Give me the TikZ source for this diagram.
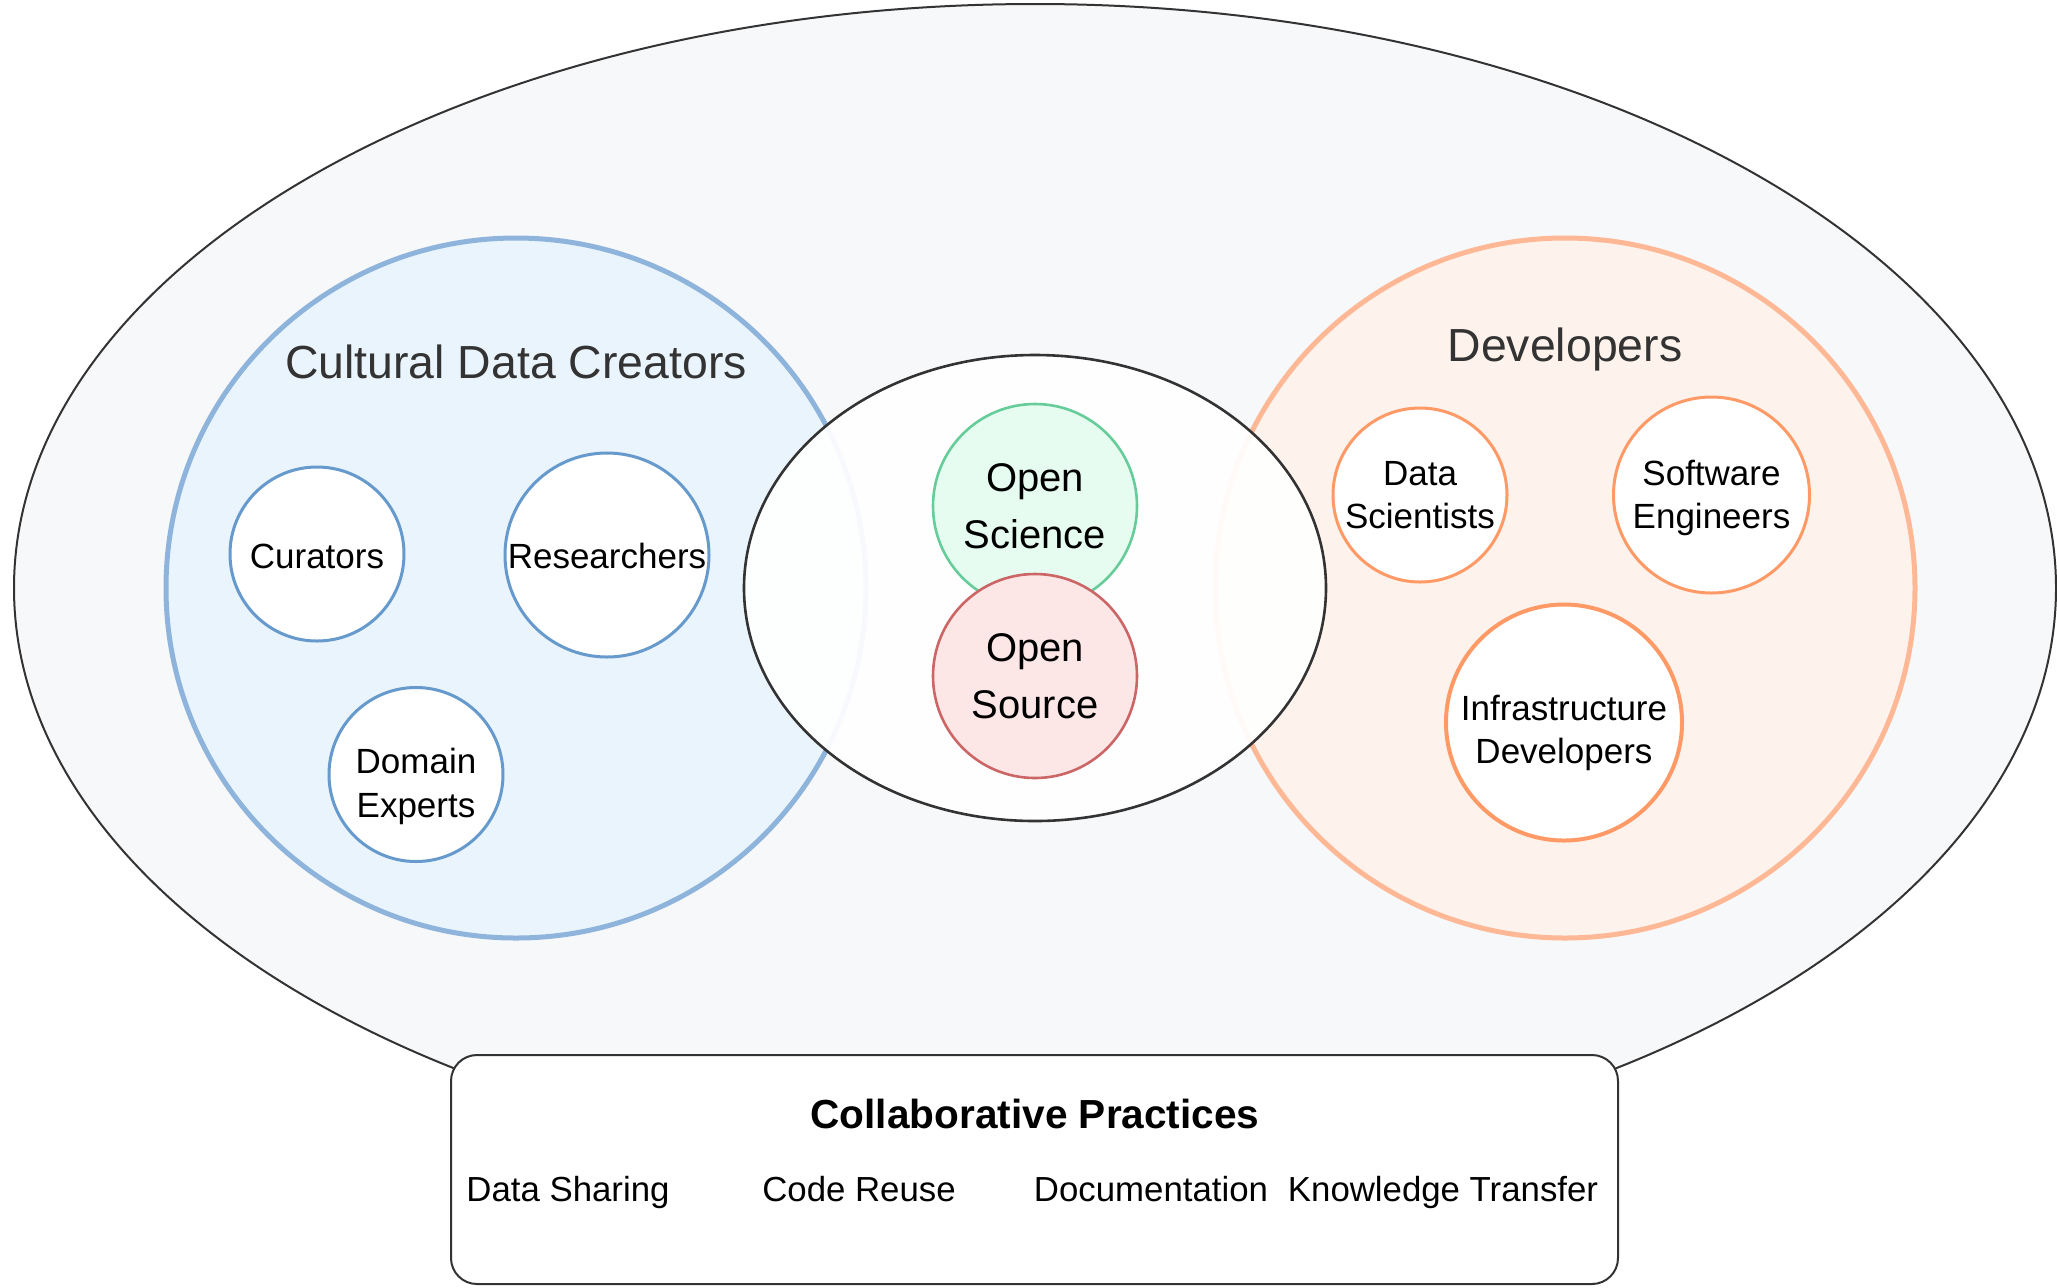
\documentclass[tikz,border=0pt]{standalone}
\usepackage{fontspec}
\setmainfont{Liberation Sans}
\usetikzlibrary{shapes.geometric}
\definecolor{outerfill}{HTML}{F7F8FA}
\definecolor{outerline}{HTML}{333333}
\definecolor{bluefill}{HTML}{EAF4FD}
\definecolor{blueline}{HTML}{8FB4DC}
\definecolor{blueinner}{HTML}{6699CC}
\definecolor{orangefill}{HTML}{FDF3EC}
\definecolor{orangeline}{HTML}{FFB895}
\definecolor{orangeinner}{HTML}{FF9A66}
\definecolor{greenfill}{HTML}{E6FCF0}
\definecolor{greenline}{HTML}{66CC99}
\definecolor{redfill}{HTML}{FDE6E6}
\definecolor{redline}{HTML}{CC6666}
\definecolor{titlegray}{HTML}{333333}
\tikzset{
  groupcircle/.style={circle, inner sep=0pt, line width=2.5pt},
  member/.style={circle, inner sep=0pt, draw, fill=white, line width=1.5pt},
  memberlabel/.style={anchor=base, inner sep=0pt, font=\fontsize{17.5}{21.5}\selectfont},
  corecircle/.style={circle, inner sep=0pt, line width=1.3pt, align=center,
     font=\fontsize{20}{28.5}\selectfont},
  grouptitle/.style={text=titlegray, font=\fontsize{23.2}{28}\selectfont},
  practice/.style={anchor=base, font=\fontsize{17.4}{21}\selectfont},
}
\begin{document}
\begin{tikzpicture}[x=0.5pt,y=-0.5pt]
\useasboundingbox (0,0) rectangle (2057,1287);
% outer ellipse
\node[ellipse, inner sep=0pt, draw=outerline, fill=outerfill, line width=1pt,
      minimum width=1021pt, minimum height=584pt] (outer) at (1035,588) {};
% group circles
\node[groupcircle, draw=blueline, fill=bluefill, minimum size=350pt] (creators) at (516,588) {};
\node[groupcircle, draw=orangeline, fill=orangefill, minimum size=350pt] (devs) at (1565,588) {};
\node[grouptitle] (creatorsT) at (516,362) {Cultural Data Creators};
\node[grouptitle] (devsT) at (1565,349) {Developers};
% members
\node[member, draw=blueinner, minimum size=87pt] (cur) at (317,554) {};
\node[member, draw=blueinner, minimum size=102pt] (res) at (607,555) {};
\node[member, draw=blueinner, minimum size=87pt] (dom) at (416,774.5) {};
\node[member, draw=orangeinner, minimum size=87pt] (dsc) at (1420,495) {};
\node[member, draw=orangeinner, minimum size=98pt] (swe) at (1711.5,495) {};
\node[member, draw=orangeinner, minimum size=118pt, line width=2pt] (inf) at (1564,722.5) {};
\node[memberlabel] (curL) at (317,568.5) {Curators};
\node[memberlabel] (resL) at (607,568) {Researchers};
\node[memberlabel] (domL1) at (416,773) {Domain};
\node[memberlabel] (domL2) at (416,817) {Experts};
\node[memberlabel] (dscL1) at (1420,485) {Data};
\node[memberlabel] (dscL2) at (1420,528) {Scientists};
\node[memberlabel] (sweL1) at (1711.5,485) {Software};
\node[memberlabel] (sweL2) at (1711.5,528) {Engineers};
\node[memberlabel] (infL1) at (1564,720) {Infrastructure};
\node[memberlabel] (infL2) at (1564,763) {Developers};
% center ellipse
\node[ellipse, inner sep=0pt, draw=outerline, fill=white, fill opacity=0.93, line width=1.3pt,
      minimum width=291pt, minimum height=233pt] (core) at (1035,588) {};
\node[corecircle, draw=greenline, fill=greenfill, minimum size=102pt] (osci) at (1035,506) {Open\\Science};
\node[corecircle, draw=redline, fill=redfill, minimum size=102pt] (osrc) at (1035,676) {Open\\Source};
% practices box
\node[draw=outerline, fill=white, rounded corners=13pt, line width=1pt, inner sep=0pt,
      minimum width=583.5pt, minimum height=114.5pt] (box) at (1034.5,1169.5) {};
\node[font=\bfseries\fontsize{20.3}{24}\selectfont] (boxT) at (1035,1114) {Collaborative Practices};
\node[practice] (p1) at (568,1201) {Data Sharing};
\node[practice] (p2) at (859,1201) {Code Reuse};
\node[practice] (p3) at (1151,1201) {Documentation};
\node[practice] (p4) at (1443,1201) {Knowledge Transfer};
\end{tikzpicture}
\end{document}
